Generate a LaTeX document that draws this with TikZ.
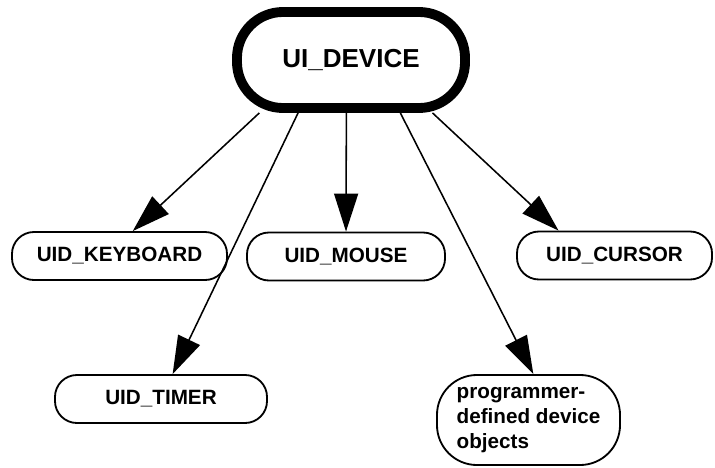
\documentclass[tikz,border=0pt]{standalone}
\usepackage{fontspec}
\setmainfont{Liberation Sans}
\usetikzlibrary{arrows.meta}

\tikzset{
  devbox/.style={draw, line width=1.3pt, rounded corners=0.55cm, inner sep=0pt,
    minimum height=1.2cm, font=\bfseries\fontsize{14.7}{17.5}\selectfont},
  topbox/.style={draw, line width=7pt, rounded corners=1.15cm, inner sep=0pt,
    minimum width=5.7cm, minimum height=2.4cm, font=\bfseries\fontsize{18.5}{22}\selectfont},
  link/.style={line width=1.1pt, -{Triangle[length=0.95cm,width=0.6cm]}}
}

\begin{document}
\begin{tikzpicture}[x=0.025cm, y=-0.025cm]

% Page frame
\useasboundingbox (0,0) rectangle (715,467);

% The root device class
\node[topbox] (dev) at (351,60) {UI\_DEVICE};

% The derived device classes
\node[devbox, minimum width=5.375cm] (keyboard) at (119.5,256) {UID\_KEYBOARD};
\node[devbox, minimum width=4.95cm] (mouse) at (346,256.5) {UID\_MOUSE};
\node[devbox, minimum width=4.875cm] (cursor) at (614.5,255.5) {UID\_CURSOR};
\node[devbox, minimum width=5.3cm] (timer) at (161,399) {UID\_TIMER};
\node[devbox, minimum width=4.575cm, minimum height=2.25cm, rounded corners=1cm,
  align=left] (custom) at (528.5,420) {programmer-\\defined device\\objects};

% Draw the inheritance arrows
\draw[link] (dev.210.6) -- (keyboard.62);
\draw[link] (dev.225) -- (timer.65);
\draw[link] (dev.265) -- (mouse.north);
\draw[link] (dev.313.8) -- (custom.84);
\draw[link] (dev.327.7) -- (cursor.156);

\end{tikzpicture}
\end{document}
